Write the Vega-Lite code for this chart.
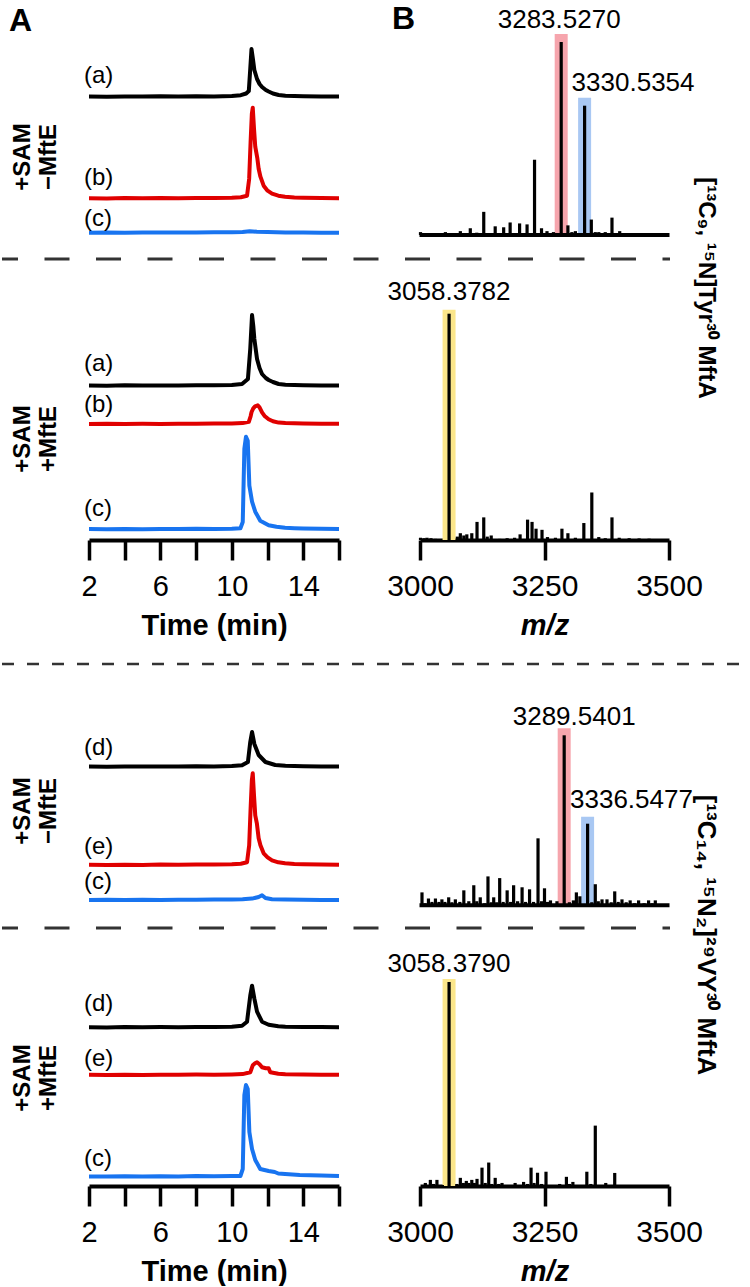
{
"$schema":"https://vega.github.io/schema/vega-lite/v6.json",
"padding":{"left":0,"top":2,"right":0,"bottom":0},
"config":{"view":{"stroke":null},"font":"Liberation Sans","text":{"font":"Liberation Sans","color":"#000000"}},
"datasets":{
"chrom":[
{"p":"L1a","t":2,"s":0.5},{"p":"L1a","t":3,"s":0.3},{"p":"L1a","t":4,"s":0.6},{"p":"L1a","t":5,"s":0.4},{"p":"L1a","t":6,"s":0.7},{"p":"L1a","t":7,"s":0.5},{"p":"L1a","t":8,"s":0.8},{"p":"L1a","t":9,"s":0.6},{"p":"L1a","t":10,"s":1},{"p":"L1a","t":10.5,"s":1.8},{"p":"L1a","t":10.8,"s":3.5},{"p":"L1a","t":10.95,"s":6},{"p":"L1a","t":11.03,"s":28},{"p":"L1a","t":11.1,"s":48},{"p":"L1a","t":11.18,"s":38},{"p":"L1a","t":11.26,"s":27},{"p":"L1a","t":11.41,"s":18},{"p":"L1a","t":11.55,"s":13},{"p":"L1a","t":11.69,"s":10},{"p":"L1a","t":11.9,"s":7},{"p":"L1a","t":12.06,"s":5.5},{"p":"L1a","t":12.3,"s":3.5},{"p":"L1a","t":12.62,"s":2},{"p":"L1a","t":13,"s":1.2},{"p":"L1a","t":13.5,"s":1},{"p":"L1a","t":14,"s":0.8},{"p":"L1a","t":15,"s":0.6},{"p":"L1a","t":16,"s":0.5},
{"p":"L1b","t":2,"s":0.5},{"p":"L1b","t":3,"s":0.3},{"p":"L1b","t":4,"s":0.6},{"p":"L1b","t":5,"s":0.4},{"p":"L1b","t":6,"s":0.6},{"p":"L1b","t":7,"s":0.4},{"p":"L1b","t":8,"s":0.7},{"p":"L1b","t":9,"s":0.6},{"p":"L1b","t":10,"s":0.9},{"p":"L1b","t":10.5,"s":1.5},{"p":"L1b","t":10.85,"s":3},{"p":"L1b","t":10.97,"s":20},{"p":"L1b","t":11.05,"s":57},{"p":"L1b","t":11.12,"s":85},{"p":"L1b","t":11.17,"s":91},{"p":"L1b","t":11.24,"s":70},{"p":"L1b","t":11.31,"s":52},{"p":"L1b","t":11.36,"s":47},{"p":"L1b","t":11.43,"s":40},{"p":"L1b","t":11.5,"s":30},{"p":"L1b","t":11.6,"s":22},{"p":"L1b","t":11.78,"s":13},{"p":"L1b","t":12,"s":8},{"p":"L1b","t":12.25,"s":5},{"p":"L1b","t":12.6,"s":3},{"p":"L1b","t":12.98,"s":2},{"p":"L1b","t":13.5,"s":1.2},{"p":"L1b","t":14,"s":0.9},{"p":"L1b","t":15,"s":0.6},{"p":"L1b","t":16,"s":0.5},
{"p":"L1c","t":2,"s":0.3},{"p":"L1c","t":3,"s":0.5},{"p":"L1c","t":4,"s":0.2},{"p":"L1c","t":5,"s":0.5},{"p":"L1c","t":6,"s":0.4},{"p":"L1c","t":7,"s":0.6},{"p":"L1c","t":8,"s":0.5},{"p":"L1c","t":9,"s":0.7},{"p":"L1c","t":10,"s":0.8},{"p":"L1c","t":10.6,"s":1},{"p":"L1c","t":11,"s":1.8},{"p":"L1c","t":11.4,"s":1.2},{"p":"L1c","t":12,"s":0.9},{"p":"L1c","t":13,"s":0.6},{"p":"L1c","t":14,"s":0.5},{"p":"L1c","t":15,"s":0.3},{"p":"L1c","t":16,"s":0.2},
{"p":"L2a","t":2,"s":0.5},{"p":"L2a","t":3,"s":0.3},{"p":"L2a","t":4,"s":0.7},{"p":"L2a","t":5,"s":0.4},{"p":"L2a","t":6,"s":0.6},{"p":"L2a","t":7,"s":0.5},{"p":"L2a","t":8,"s":0.8},{"p":"L2a","t":9,"s":0.7},{"p":"L2a","t":10,"s":1},{"p":"L2a","t":10.57,"s":2},{"p":"L2a","t":10.9,"s":7},{"p":"L2a","t":11.03,"s":37},{"p":"L2a","t":11.13,"s":71},{"p":"L2a","t":11.2,"s":60},{"p":"L2a","t":11.26,"s":47},{"p":"L2a","t":11.41,"s":27},{"p":"L2a","t":11.55,"s":18},{"p":"L2a","t":11.69,"s":12},{"p":"L2a","t":11.9,"s":8},{"p":"L2a","t":12.06,"s":6},{"p":"L2a","t":12.3,"s":4},{"p":"L2a","t":12.62,"s":2},{"p":"L2a","t":13,"s":1.3},{"p":"L2a","t":13.5,"s":1},{"p":"L2a","t":14,"s":0.8},{"p":"L2a","t":15,"s":0.6},{"p":"L2a","t":16,"s":0.5},
{"p":"L2b","t":2,"s":0.4},{"p":"L2b","t":3,"s":0.6},{"p":"L2b","t":4,"s":0.3},{"p":"L2b","t":5,"s":0.5},{"p":"L2b","t":6,"s":0.4},{"p":"L2b","t":7,"s":0.6},{"p":"L2b","t":8,"s":0.5},{"p":"L2b","t":9,"s":0.7},{"p":"L2b","t":10,"s":0.9},{"p":"L2b","t":10.6,"s":1.2},{"p":"L2b","t":10.95,"s":2.5},{"p":"L2b","t":11.05,"s":8},{"p":"L2b","t":11.1,"s":12},{"p":"L2b","t":11.2,"s":16},{"p":"L2b","t":11.3,"s":18},{"p":"L2b","t":11.45,"s":19},{"p":"L2b","t":11.55,"s":17},{"p":"L2b","t":11.69,"s":12},{"p":"L2b","t":11.85,"s":8},{"p":"L2b","t":12.06,"s":5},{"p":"L2b","t":12.3,"s":3},{"p":"L2b","t":12.62,"s":1.7},{"p":"L2b","t":13,"s":1.2},{"p":"L2b","t":14,"s":0.8},{"p":"L2b","t":15,"s":0.6},{"p":"L2b","t":16,"s":0.5},
{"p":"L2c","t":2,"s":0.6},{"p":"L2c","t":3,"s":0.4},{"p":"L2c","t":4,"s":0.7},{"p":"L2c","t":5,"s":0.5},{"p":"L2c","t":6,"s":0.8},{"p":"L2c","t":7,"s":0.6},{"p":"L2c","t":8,"s":0.9},{"p":"L2c","t":9,"s":0.8},{"p":"L2c","t":10,"s":1},{"p":"L2c","t":10.48,"s":1.5},{"p":"L2c","t":10.61,"s":7.7},{"p":"L2c","t":10.7,"s":81},{"p":"L2c","t":10.79,"s":93},{"p":"L2c","t":10.89,"s":89},{"p":"L2c","t":10.98,"s":44},{"p":"L2c","t":11.13,"s":28},{"p":"L2c","t":11.31,"s":18},{"p":"L2c","t":11.59,"s":9},{"p":"L2c","t":12.06,"s":4.5},{"p":"L2c","t":12.5,"s":3},{"p":"L2c","t":12.98,"s":2},{"p":"L2c","t":13.5,"s":1.5},{"p":"L2c","t":14,"s":1.2},{"p":"L2c","t":15,"s":0.9},{"p":"L2c","t":16,"s":0.7},
{"p":"L3d","t":2,"s":0.5},{"p":"L3d","t":3,"s":0.3},{"p":"L3d","t":4,"s":0.6},{"p":"L3d","t":5,"s":0.4},{"p":"L3d","t":6,"s":0.6},{"p":"L3d","t":7,"s":0.4},{"p":"L3d","t":8,"s":0.7},{"p":"L3d","t":9,"s":0.6},{"p":"L3d","t":10,"s":0.9},{"p":"L3d","t":10.57,"s":1.7},{"p":"L3d","t":10.9,"s":5},{"p":"L3d","t":11.03,"s":25},{"p":"L3d","t":11.13,"s":35},{"p":"L3d","t":11.26,"s":23},{"p":"L3d","t":11.5,"s":12},{"p":"L3d","t":11.88,"s":5},{"p":"L3d","t":12.43,"s":2},{"p":"L3d","t":13,"s":1.2},{"p":"L3d","t":14,"s":0.8},{"p":"L3d","t":15,"s":0.6},{"p":"L3d","t":16,"s":0.5},
{"p":"L3e","t":2,"s":0.5},{"p":"L3e","t":3,"s":0.3},{"p":"L3e","t":4,"s":0.6},{"p":"L3e","t":5,"s":0.4},{"p":"L3e","t":6,"s":0.7},{"p":"L3e","t":7,"s":0.5},{"p":"L3e","t":8,"s":0.8},{"p":"L3e","t":9,"s":0.7},{"p":"L3e","t":10,"s":1},{"p":"L3e","t":10.5,"s":1.6},{"p":"L3e","t":10.85,"s":3},{"p":"L3e","t":10.97,"s":20},{"p":"L3e","t":11.05,"s":57},{"p":"L3e","t":11.12,"s":85},{"p":"L3e","t":11.17,"s":92},{"p":"L3e","t":11.24,"s":70},{"p":"L3e","t":11.31,"s":50},{"p":"L3e","t":11.4,"s":42},{"p":"L3e","t":11.5,"s":27},{"p":"L3e","t":11.6,"s":20},{"p":"L3e","t":11.78,"s":12},{"p":"L3e","t":12,"s":8},{"p":"L3e","t":12.25,"s":5},{"p":"L3e","t":12.6,"s":3},{"p":"L3e","t":12.98,"s":2},{"p":"L3e","t":13.5,"s":1.3},{"p":"L3e","t":14,"s":1},{"p":"L3e","t":15,"s":0.7},{"p":"L3e","t":16,"s":0.5},
{"p":"L3c","t":2,"s":0.3},{"p":"L3c","t":3,"s":0.5},{"p":"L3c","t":4,"s":0.3},{"p":"L3c","t":5,"s":0.6},{"p":"L3c","t":6,"s":0.4},{"p":"L3c","t":7,"s":0.6},{"p":"L3c","t":8,"s":0.5},{"p":"L3c","t":9,"s":0.7},{"p":"L3c","t":10,"s":0.8},{"p":"L3c","t":10.6,"s":1},{"p":"L3c","t":11.13,"s":1.7},{"p":"L3c","t":11.5,"s":3.3},{"p":"L3c","t":11.69,"s":5},{"p":"L3c","t":11.88,"s":2.3},{"p":"L3c","t":12.25,"s":1},{"p":"L3c","t":13,"s":0.7},{"p":"L3c","t":14,"s":0.5},{"p":"L3c","t":15,"s":0.4},{"p":"L3c","t":16,"s":0.3},
{"p":"L4d","t":2,"s":0.5},{"p":"L4d","t":3,"s":0.3},{"p":"L4d","t":4,"s":0.6},{"p":"L4d","t":5,"s":0.4},{"p":"L4d","t":6,"s":0.6},{"p":"L4d","t":7,"s":0.5},{"p":"L4d","t":8,"s":0.7},{"p":"L4d","t":9,"s":0.6},{"p":"L4d","t":10,"s":1},{"p":"L4d","t":10.57,"s":2},{"p":"L4d","t":10.85,"s":6},{"p":"L4d","t":11.03,"s":32},{"p":"L4d","t":11.13,"s":42},{"p":"L4d","t":11.26,"s":29},{"p":"L4d","t":11.41,"s":16},{"p":"L4d","t":11.69,"s":6},{"p":"L4d","t":12.06,"s":3},{"p":"L4d","t":12.6,"s":1.5},{"p":"L4d","t":13,"s":1},{"p":"L4d","t":14,"s":0.7},{"p":"L4d","t":15,"s":0.6},{"p":"L4d","t":16,"s":0.5},
{"p":"L4e","t":2,"s":0.5},{"p":"L4e","t":3,"s":0.3},{"p":"L4e","t":4,"s":0.6},{"p":"L4e","t":5,"s":0.4},{"p":"L4e","t":6,"s":0.6},{"p":"L4e","t":7,"s":0.5},{"p":"L4e","t":8,"s":0.7},{"p":"L4e","t":9,"s":0.6},{"p":"L4e","t":10,"s":0.9},{"p":"L4e","t":10.6,"s":1.2},{"p":"L4e","t":11.03,"s":3},{"p":"L4e","t":11.17,"s":10},{"p":"L4e","t":11.3,"s":12},{"p":"L4e","t":11.41,"s":13},{"p":"L4e","t":11.55,"s":11},{"p":"L4e","t":11.69,"s":8},{"p":"L4e","t":11.9,"s":7},{"p":"L4e","t":12.06,"s":7},{"p":"L4e","t":12.15,"s":3},{"p":"L4e","t":12.6,"s":1.5},{"p":"L4e","t":13,"s":1},{"p":"L4e","t":14,"s":0.7},{"p":"L4e","t":15,"s":0.6},{"p":"L4e","t":16,"s":0.5},
{"p":"L4c","t":2,"s":0.6},{"p":"L4c","t":3,"s":0.4},{"p":"L4c","t":4,"s":0.7},{"p":"L4c","t":5,"s":0.5},{"p":"L4c","t":6,"s":0.8},{"p":"L4c","t":7,"s":0.6},{"p":"L4c","t":8,"s":0.9},{"p":"L4c","t":9,"s":0.8},{"p":"L4c","t":10,"s":1},{"p":"L4c","t":10.48,"s":1},{"p":"L4c","t":10.61,"s":8},{"p":"L4c","t":10.7,"s":82},{"p":"L4c","t":10.79,"s":92},{"p":"L4c","t":10.89,"s":88},{"p":"L4c","t":10.98,"s":45},{"p":"L4c","t":11.13,"s":28},{"p":"L4c","t":11.31,"s":17},{"p":"L4c","t":11.59,"s":8},{"p":"L4c","t":12.06,"s":6},{"p":"L4c","t":12.4,"s":5},{"p":"L4c","t":12.6,"s":3.5},{"p":"L4c","t":12.98,"s":3},{"p":"L4c","t":13.8,"s":2},{"p":"L4c","t":15,"s":1.5},{"p":"L4c","t":16,"s":1}
],
"spec":[
{"p":"S1","mz":3001,"rel":1.5},{"p":"S1","mz":3012,"rel":1},{"p":"S1","mz":3020,"rel":0.8},{"p":"S1","mz":3030,"rel":1},{"p":"S1","mz":3040,"rel":0.8},{"p":"S1","mz":3051,"rel":1.5},{"p":"S1","mz":3062,"rel":0.8},{"p":"S1","mz":3070,"rel":1},{"p":"S1","mz":3081,"rel":2},{"p":"S1","mz":3090,"rel":1},{"p":"S1","mz":3101,"rel":3.5},{"p":"S1","mz":3114,"rel":1.2},{"p":"S1","mz":3128,"rel":12},{"p":"S1","mz":3141,"rel":0.8},{"p":"S1","mz":3151,"rel":4.5},{"p":"S1","mz":3160,"rel":1},{"p":"S1","mz":3168,"rel":4},{"p":"S1","mz":3175,"rel":1},{"p":"S1","mz":3181,"rel":6.5},{"p":"S1","mz":3192,"rel":1},{"p":"S1","mz":3200,"rel":6},{"p":"S1","mz":3207,"rel":1},{"p":"S1","mz":3215,"rel":5.5},{"p":"S1","mz":3222,"rel":0.8},{"p":"S1","mz":3230,"rel":39},{"p":"S1","mz":3237,"rel":1},{"p":"S1","mz":3244,"rel":3.5},{"p":"S1","mz":3255,"rel":2},{"p":"S1","mz":3268,"rel":1.5},{"p":"S1","mz":3283.527,"rel":100,"grp":"M"},{"p":"S1","mz":3297,"rel":5},{"p":"S1","mz":3305,"rel":1.5},{"p":"S1","mz":3312,"rel":2},{"p":"S1","mz":3320,"rel":0.8},{"p":"S1","mz":3330.5354,"rel":67,"grp":"M47"},{"p":"S1","mz":3344,"rel":8},{"p":"S1","mz":3352,"rel":1.5},{"p":"S1","mz":3359,"rel":1.5},{"p":"S1","mz":3372,"rel":1.5},{"p":"S1","mz":3385.5,"rel":9},{"p":"S1","mz":3393,"rel":1},{"p":"S1","mz":3401,"rel":2},{"p":"S1","mz":3412,"rel":0.5},
{"p":"S2","mz":3001,"rel":1},{"p":"S2","mz":3008,"rel":0.8},{"p":"S2","mz":3014,"rel":1},{"p":"S2","mz":3022,"rel":0.8},{"p":"S2","mz":3031,"rel":0.5},{"p":"S2","mz":3058.3782,"rel":100,"grp":"P"},{"p":"S2","mz":3075,"rel":1.5},{"p":"S2","mz":3081,"rel":3},{"p":"S2","mz":3088,"rel":2},{"p":"S2","mz":3094,"rel":2.5},{"p":"S2","mz":3104,"rel":3},{"p":"S2","mz":3114.5,"rel":8},{"p":"S2","mz":3128,"rel":10},{"p":"S2","mz":3135,"rel":1.5},{"p":"S2","mz":3143,"rel":2},{"p":"S2","mz":3160,"rel":0.5},{"p":"S2","mz":3175,"rel":0.8},{"p":"S2","mz":3190,"rel":1},{"p":"S2","mz":3201,"rel":2.5},{"p":"S2","mz":3216,"rel":9},{"p":"S2","mz":3225,"rel":8},{"p":"S2","mz":3233,"rel":5},{"p":"S2","mz":3245,"rel":4.5},{"p":"S2","mz":3256,"rel":1.3},{"p":"S2","mz":3272,"rel":1},{"p":"S2","mz":3285,"rel":5},{"p":"S2","mz":3297,"rel":3},{"p":"S2","mz":3312,"rel":1},{"p":"S2","mz":3329,"rel":7.5},{"p":"S2","mz":3345,"rel":21},{"p":"S2","mz":3359,"rel":1.3},{"p":"S2","mz":3372,"rel":0.8},{"p":"S2","mz":3385.5,"rel":10},{"p":"S2","mz":3400,"rel":1},{"p":"S2","mz":3420,"rel":0.8},{"p":"S2","mz":3440,"rel":0.7},{"p":"S2","mz":3460,"rel":0.6},
{"p":"S3","mz":3004,"rel":7.6},{"p":"S3","mz":3010,"rel":1.2},{"p":"S3","mz":3017,"rel":4},{"p":"S3","mz":3024,"rel":2},{"p":"S3","mz":3031,"rel":4},{"p":"S3","mz":3038,"rel":2},{"p":"S3","mz":3044,"rel":3.5},{"p":"S3","mz":3050,"rel":2},{"p":"S3","mz":3057.6,"rel":4.7},{"p":"S3","mz":3064,"rel":1.8},{"p":"S3","mz":3071,"rel":3.5},{"p":"S3","mz":3080,"rel":2},{"p":"S3","mz":3088,"rel":8.8},{"p":"S3","mz":3098,"rel":2.4},{"p":"S3","mz":3108,"rel":11.8},{"p":"S3","mz":3114,"rel":2.4},{"p":"S3","mz":3121,"rel":4.7},{"p":"S3","mz":3130,"rel":1.2},{"p":"S3","mz":3136.5,"rel":17},{"p":"S3","mz":3143,"rel":1.8},{"p":"S3","mz":3148,"rel":4.7},{"p":"S3","mz":3154,"rel":1.8},{"p":"S3","mz":3160,"rel":16},{"p":"S3","mz":3167,"rel":2},{"p":"S3","mz":3175,"rel":8.8},{"p":"S3","mz":3182,"rel":2},{"p":"S3","mz":3188,"rel":11.8},{"p":"S3","mz":3196,"rel":2.4},{"p":"S3","mz":3205,"rel":10.6},{"p":"S3","mz":3212,"rel":2},{"p":"S3","mz":3220,"rel":9.4},{"p":"S3","mz":3228,"rel":2},{"p":"S3","mz":3237,"rel":39.4},{"p":"S3","mz":3244,"rel":2.4},{"p":"S3","mz":3250,"rel":10},{"p":"S3","mz":3256,"rel":2},{"p":"S3","mz":3262,"rel":2.9},{"p":"S3","mz":3275,"rel":2.4},{"p":"S3","mz":3289.5401,"rel":100,"grp":"M"},{"p":"S3","mz":3300,"rel":1.8},{"p":"S3","mz":3308,"rel":2.9},{"p":"S3","mz":3314,"rel":7.6},{"p":"S3","mz":3321,"rel":5.3},{"p":"S3","mz":3336.5477,"rel":48,"grp":"M47"},{"p":"S3","mz":3345,"rel":1.8},{"p":"S3","mz":3352,"rel":12.4},{"p":"S3","mz":3358,"rel":2.4},{"p":"S3","mz":3365.5,"rel":3.5},{"p":"S3","mz":3375.5,"rel":3.5},{"p":"S3","mz":3384,"rel":1.8},{"p":"S3","mz":3391,"rel":8.2},{"p":"S3","mz":3398,"rel":2},{"p":"S3","mz":3405.6,"rel":3.5},{"p":"S3","mz":3414,"rel":1.8},{"p":"S3","mz":3422,"rel":2.9},{"p":"S3","mz":3431,"rel":1.2},{"p":"S3","mz":3439,"rel":2.9},{"p":"S3","mz":3450,"rel":1.2},{"p":"S3","mz":3459,"rel":2.9},{"p":"S3","mz":3466,"rel":1.2},{"p":"S3","mz":3472.5,"rel":2.9},
{"p":"S4","mz":3010.7,"rel":1.5},{"p":"S4","mz":3020.8,"rel":3},{"p":"S4","mz":3027,"rel":1},{"p":"S4","mz":3034,"rel":3},{"p":"S4","mz":3045,"rel":0.5},{"p":"S4","mz":3058.379,"rel":100,"grp":"P"},{"p":"S4","mz":3074,"rel":1},{"p":"S4","mz":3081,"rel":4},{"p":"S4","mz":3087,"rel":1.5},{"p":"S4","mz":3093,"rel":2.5},{"p":"S4","mz":3098,"rel":1.5},{"p":"S4","mz":3104,"rel":3},{"p":"S4","mz":3109,"rel":1.5},{"p":"S4","mz":3114.5,"rel":3.5},{"p":"S4","mz":3124.5,"rel":9},{"p":"S4","mz":3131,"rel":1.5},{"p":"S4","mz":3138,"rel":11.5},{"p":"S4","mz":3144,"rel":1},{"p":"S4","mz":3151,"rel":4},{"p":"S4","mz":3158,"rel":1},{"p":"S4","mz":3164.7,"rel":1.5},{"p":"S4","mz":3178,"rel":0.5},{"p":"S4","mz":3191,"rel":1.5},{"p":"S4","mz":3200,"rel":0.5},{"p":"S4","mz":3208,"rel":2},{"p":"S4","mz":3216,"rel":1},{"p":"S4","mz":3223,"rel":9},{"p":"S4","mz":3229,"rel":1.5},{"p":"S4","mz":3236,"rel":6.5},{"p":"S4","mz":3244,"rel":1},{"p":"S4","mz":3253,"rel":7},{"p":"S4","mz":3265,"rel":0.5},{"p":"S4","mz":3280.5,"rel":1},{"p":"S4","mz":3288,"rel":0.5},{"p":"S4","mz":3294,"rel":4.5},{"p":"S4","mz":3300,"rel":1},{"p":"S4","mz":3307,"rel":2},{"p":"S4","mz":3320,"rel":0.5},{"p":"S4","mz":3335,"rel":7},{"p":"S4","mz":3343,"rel":1},{"p":"S4","mz":3352,"rel":29.6},{"p":"S4","mz":3362,"rel":0.5},{"p":"S4","mz":3373,"rel":1.5},{"p":"S4","mz":3382,"rel":0.5},{"p":"S4","mz":3391,"rel":6.4},{"p":"S4","mz":3400,"rel":0.5}
]
},
"bounds":"flush",
"spacing":162,
"vconcat":[
{"width":580,"height":508,
"resolve":{"scale":{"x":"independent","y":"independent"}},
"layer":[
{"layer":[
{"data":{"name":"chrom"},"transform":[{"filter":"datum.p=='L1a'"}],"mark":{"type":"line","color":"#000000","strokeWidth":4,"strokeJoin":"round"},"encoding":{"x":{"field":"t","type":"quantitative","scale":{"domain":[2,16],"range":[0,250],"nice":false},"axis":null},"y":{"field":"s","type":"quantitative","scale":{"domain":[0,100],"range":[65,-35],"nice":false},"axis":null}}},
{"data":{"values":[{}]},"mark":{"type":"text","fontSize":24,"align":"left","baseline":"middle","dx":-5},"encoding":{"x":{"datum":2,"type":"quantitative","axis":null},"y":{"datum":21,"type":"quantitative","axis":null},"text":{"value":"(a)"}}},
{"data":{"values":[{}]},"mark":{"type":"text","fontSize":32,"fontWeight":"bold","align":"left","baseline":"middle"},"encoding":{"x":{"datum":-2.48,"type":"quantitative","axis":null},"y":{"datum":76.5,"type":"quantitative","axis":null},"text":{"value":"A"}}}
]},
{"layer":[
{"data":{"name":"chrom"},"transform":[{"filter":"datum.p=='L1b'"}],"mark":{"type":"line","color":"#e00000","strokeWidth":4,"strokeJoin":"round"},"encoding":{"x":{"field":"t","type":"quantitative","scale":{"domain":[2,16],"range":[0,250],"nice":false},"axis":null},"y":{"field":"s","type":"quantitative","scale":{"domain":[0,100],"range":[166.7,66.7],"nice":false},"axis":null}}},
{"data":{"values":[{}]},"mark":{"type":"text","fontSize":24,"align":"left","baseline":"middle","dx":-5},"encoding":{"x":{"datum":2,"type":"quantitative","axis":null},"y":{"datum":21,"type":"quantitative","axis":null},"text":{"value":"(b)"}}},
{"data":{"values":[{}]},"mark":{"type":"text","fontSize":24,"fontWeight":"bold","align":"center","baseline":"middle","angle":270,"lineHeight":26},"encoding":{"x":{"datum":-1.696,"type":"quantitative","axis":null},"y":{"datum":41.7,"type":"quantitative","axis":null},"text":{"value":["+SAM","−MftE"]}}}
]},
{"layer":[
{"data":{"name":"chrom"},"transform":[{"filter":"datum.p=='L1c'"}],"mark":{"type":"line","color":"#1874f0","strokeWidth":4,"strokeJoin":"round"},"encoding":{"x":{"field":"t","type":"quantitative","scale":{"domain":[2,16],"range":[0,250],"nice":false},"axis":null},"y":{"field":"s","type":"quantitative","scale":{"domain":[0,100],"range":[201,101],"nice":false},"axis":null}}},
{"data":{"values":[{}]},"mark":{"type":"text","fontSize":24,"align":"left","baseline":"middle","dx":-5},"encoding":{"x":{"datum":2,"type":"quantitative","axis":null},"y":{"datum":14.5,"type":"quantitative","axis":null},"text":{"value":"(c)"}}}
]},
{"layer":[
{"data":{"name":"chrom"},"transform":[{"filter":"datum.p=='L2a'"}],"mark":{"type":"line","color":"#000000","strokeWidth":4,"strokeJoin":"round"},"encoding":{"x":{"field":"t","type":"quantitative","scale":{"domain":[2,16],"range":[0,250],"nice":false},"axis":null},"y":{"field":"s","type":"quantitative","scale":{"domain":[0,100],"range":[354,254],"nice":false},"axis":null}}},
{"data":{"values":[{}]},"mark":{"type":"text","fontSize":24,"align":"left","baseline":"middle","dx":-5},"encoding":{"x":{"datum":2,"type":"quantitative","axis":null},"y":{"datum":22.5,"type":"quantitative","axis":null},"text":{"value":"(a)"}}}
]},
{"layer":[
{"data":{"name":"chrom"},"transform":[{"filter":"datum.p=='L2b'"}],"mark":{"type":"line","color":"#e00000","strokeWidth":4,"strokeJoin":"round"},"encoding":{"x":{"field":"t","type":"quantitative","scale":{"domain":[2,16],"range":[0,250],"nice":false},"axis":null},"y":{"field":"s","type":"quantitative","scale":{"domain":[0,100],"range":[392.3,292.3],"nice":false},"axis":null}}},
{"data":{"values":[{}]},"mark":{"type":"text","fontSize":24,"align":"left","baseline":"middle","dx":-5},"encoding":{"x":{"datum":2,"type":"quantitative","axis":null},"y":{"datum":19.3,"type":"quantitative","axis":null},"text":{"value":"(b)"}}},
{"data":{"values":[{}]},"mark":{"type":"text","fontSize":24,"fontWeight":"bold","align":"center","baseline":"middle","angle":270,"lineHeight":26},"encoding":{"x":{"datum":-1.696,"type":"quantitative","axis":null},"y":{"datum":-14.7,"type":"quantitative","axis":null},"text":{"value":["+SAM","+MftE"]}}}
]},
{"layer":[
{"data":{"name":"chrom"},"transform":[{"filter":"datum.p=='L2c'"}],"mark":{"type":"line","color":"#1874f0","strokeWidth":4,"strokeJoin":"round"},"encoding":{"x":{"field":"t","type":"quantitative","scale":{"domain":[2,16],"range":[0,250],"nice":false},"axis":{"orient":"bottom","values":[2,4,6,8,10,12,14,16],"labelExpr":"datum.value % 4 == 2 ? datum.label : ''","title":"Time (min)","domainColor":"#000000","domainWidth":4,"tickColor":"#000000","tickWidth":3.5,"tickSize":20,"labelFont":"Liberation Sans","labelFontSize":29,"labelColor":"#000000","labelPadding":12,"labelFlush":false,"labelOverlap":false,"titleFont":"Liberation Sans","titleFontSize":29,"titleFontWeight":"bold","titleColor":"#000000","titlePadding":10,"grid":false}},"y":{"field":"s","type":"quantitative","scale":{"domain":[0,100],"range":[497.7,397.7],"nice":false},"axis":null}}},
{"data":{"values":[{}]},"mark":{"type":"text","fontSize":24,"align":"left","baseline":"middle","dx":-5},"encoding":{"x":{"datum":2,"type":"quantitative"},"y":{"datum":21.2,"type":"quantitative","axis":null},"text":{"value":"(c)"}}}
]},
{"layer":[
{"data":{"name":"spec"},"transform":[{"filter":"datum.p=='S1' && datum.grp != null"}],"mark":{"type":"rule","strokeWidth":13,"yOffset":-8},"encoding":{"x":{"field":"mz","type":"quantitative","scale":{"domain":[3000,3500],"range":[331,580],"nice":false},"axis":null},"y":{"field":"rel","type":"quantitative","scale":{"domain":[0,100],"range":[203,10],"nice":false},"axis":null},"y2":{"datum":0},"color":{"field":"grp","type":"nominal","scale":{"domain":["M","M47","P"],"range":["#f6a5ad","#a9c8f3","#fbe68b"]},"legend":null}}},
{"data":{"name":"spec"},"transform":[{"filter":"datum.p=='S1'"}],"mark":{"type":"rule","strokeWidth":3.2,"color":"#000000"},"encoding":{"x":{"field":"mz","type":"quantitative","axis":null},"y":{"field":"rel","type":"quantitative","axis":null},"y2":{"datum":0}}},
{"data":{"values":[{}]},"mark":{"type":"rule","strokeWidth":4,"color":"#000000"},"encoding":{"x":{"datum":2999,"type":"quantitative","axis":null},"x2":{"datum":3501},"y":{"datum":0,"type":"quantitative","axis":null}}},
{"data":{"values":[{}]},"mark":{"type":"rule","strokeWidth":3,"color":"#333333","strokeDash":[25,26.5],"strokeDashOffset":9},"encoding":{"x":{"datum":2160.64,"type":"quantitative","axis":null},"x2":{"datum":3502},"y":{"datum":-12.44,"type":"quantitative","axis":null}}},
{"data":{"name":"spec"},"transform":[{"filter":"datum.p=='S1' && datum.grp=='M'"}],"mark":{"type":"text","fontSize":26,"align":"center","baseline":"middle","dx":-2,"dy":-22},"encoding":{"x":{"field":"mz","type":"quantitative","axis":null},"y":{"field":"rel","type":"quantitative","axis":null},"text":{"field":"mz","type":"quantitative","format":".4f"}}},
{"data":{"name":"spec"},"transform":[{"filter":"datum.p=='S1' && datum.grp=='M47'"}],"mark":{"type":"text","fontSize":26,"align":"left","baseline":"middle","dx":-13,"dy":-23},"encoding":{"x":{"field":"mz","type":"quantitative","axis":null},"y":{"field":"rel","type":"quantitative","axis":null},"text":{"field":"mz","type":"quantitative","format":".4f"}}},
{"data":{"values":[{}]},"mark":{"type":"text","fontSize":32,"fontWeight":"bold","align":"left","baseline":"middle"},"encoding":{"x":{"datum":2943.8,"type":"quantitative","axis":null},"y":{"datum":112,"type":"quantitative","axis":null},"text":{"value":"B"}}},
{"data":{"values":[{}]},"mark":{"type":"text","fontSize":24,"fontWeight":"bold","align":"center","baseline":"middle","angle":90},"encoding":{"x":{"datum":3573.5,"type":"quantitative","axis":null},"y":{"datum":-27.5,"type":"quantitative","axis":null},"text":{"value":"[¹³C₉, ¹⁵N]Tyr³⁰ MftA"}}}
]},
{"layer":[
{"data":{"name":"spec"},"transform":[{"filter":"datum.p=='S2' && datum.grp != null"}],"mark":{"type":"rule","strokeWidth":13,"yOffset":-4},"encoding":{"x":{"field":"mz","type":"quantitative","scale":{"domain":[3000,3500],"range":[331,580],"nice":false}},"y":{"field":"rel","type":"quantitative","scale":{"domain":[0,100],"range":[508,281.7],"nice":false},"axis":null},"y2":{"datum":0},"color":{"field":"grp","type":"nominal","scale":{"domain":["M","M47","P"],"range":["#f6a5ad","#a9c8f3","#fbe68b"]},"legend":null}}},
{"data":{"name":"spec"},"transform":[{"filter":"datum.p=='S2'"}],"mark":{"type":"rule","strokeWidth":3.2,"color":"#000000"},"encoding":{"x":{"field":"mz","type":"quantitative","axis":{"orient":"bottom","values":[3000,3250,3500],"format":"d","title":"m/z","domainColor":"#000000","domainWidth":4,"tickColor":"#000000","tickWidth":3.5,"tickSize":20,"labelFont":"Liberation Sans","labelFontSize":30,"labelColor":"#000000","labelPadding":11,"labelFlush":false,"labelOverlap":false,"titleFont":"Liberation Sans","titleFontSize":29,"titleFontWeight":"bold","titleFontStyle":"italic","titleColor":"#000000","titlePadding":10,"grid":false}},"y":{"field":"rel","type":"quantitative","axis":null},"y2":{"datum":0}}},
{"data":{"name":"spec"},"transform":[{"filter":"datum.p=='S2' && datum.grp=='P'"}],"mark":{"type":"text","fontSize":26,"align":"center","baseline":"middle","dy":-22},"encoding":{"x":{"field":"mz","type":"quantitative"},"y":{"field":"rel","type":"quantitative","axis":null},"text":{"field":"mz","type":"quantitative","format":".4f"}}}
]}
]},
{"width":580,"height":484,
"resolve":{"scale":{"x":"independent","y":"independent"}},
"layer":[
{"layer":[
{"data":{"name":"chrom"},"transform":[{"filter":"datum.p=='L3d'"}],"mark":{"type":"line","color":"#000000","strokeWidth":4,"strokeJoin":"round"},"encoding":{"x":{"field":"t","type":"quantitative","scale":{"domain":[2,16],"range":[0,250],"nice":false},"axis":null},"y":{"field":"s","type":"quantitative","scale":{"domain":[0,100],"range":[65,-35],"nice":false},"axis":null}}},
{"data":{"values":[{}]},"mark":{"type":"text","fontSize":24,"align":"left","baseline":"middle","dx":-5},"encoding":{"x":{"datum":2,"type":"quantitative","axis":null},"y":{"datum":19.3,"type":"quantitative","axis":null},"text":{"value":"(d)"}}}
]},
{"layer":[
{"data":{"name":"chrom"},"transform":[{"filter":"datum.p=='L3e'"}],"mark":{"type":"line","color":"#e00000","strokeWidth":4,"strokeJoin":"round"},"encoding":{"x":{"field":"t","type":"quantitative","scale":{"domain":[2,16],"range":[0,250],"nice":false},"axis":null},"y":{"field":"s","type":"quantitative","scale":{"domain":[0,100],"range":[163.3,63.3],"nice":false},"axis":null}}},
{"data":{"values":[{}]},"mark":{"type":"text","fontSize":24,"align":"left","baseline":"middle","dx":-5},"encoding":{"x":{"datum":2,"type":"quantitative","axis":null},"y":{"datum":18.5,"type":"quantitative","axis":null},"text":{"value":"(e)"}}},
{"data":{"values":[{}]},"mark":{"type":"text","fontSize":24,"fontWeight":"bold","align":"center","baseline":"middle","angle":270,"lineHeight":26},"encoding":{"x":{"datum":-1.696,"type":"quantitative","axis":null},"y":{"datum":54.3,"type":"quantitative","axis":null},"text":{"value":["+SAM","−MftE"]}}}
]},
{"layer":[
{"data":{"name":"chrom"},"transform":[{"filter":"datum.p=='L3c'"}],"mark":{"type":"line","color":"#1874f0","strokeWidth":4,"strokeJoin":"round"},"encoding":{"x":{"field":"t","type":"quantitative","scale":{"domain":[2,16],"range":[0,250],"nice":false},"axis":null},"y":{"field":"s","type":"quantitative","scale":{"domain":[0,100],"range":[198.3,98.3],"nice":false},"axis":null}}},
{"data":{"values":[{}]},"mark":{"type":"text","fontSize":24,"align":"left","baseline":"middle","dx":-5},"encoding":{"x":{"datum":2,"type":"quantitative","axis":null},"y":{"datum":18.5,"type":"quantitative","axis":null},"text":{"value":"(c)"}}}
]},
{"layer":[
{"data":{"name":"chrom"},"transform":[{"filter":"datum.p=='L4d'"}],"mark":{"type":"line","color":"#000000","strokeWidth":4,"strokeJoin":"round"},"encoding":{"x":{"field":"t","type":"quantitative","scale":{"domain":[2,16],"range":[0,250],"nice":false},"axis":null},"y":{"field":"s","type":"quantitative","scale":{"domain":[0,100],"range":[325.7,225.7],"nice":false},"axis":null}}},
{"data":{"values":[{}]},"mark":{"type":"text","fontSize":24,"align":"left","baseline":"middle","dx":-5},"encoding":{"x":{"datum":2,"type":"quantitative","axis":null},"y":{"datum":23.4,"type":"quantitative","axis":null},"text":{"value":"(d)"}}}
]},
{"layer":[
{"data":{"name":"chrom"},"transform":[{"filter":"datum.p=='L4e'"}],"mark":{"type":"line","color":"#e00000","strokeWidth":4,"strokeJoin":"round"},"encoding":{"x":{"field":"t","type":"quantitative","scale":{"domain":[2,16],"range":[0,250],"nice":false},"axis":null},"y":{"field":"s","type":"quantitative","scale":{"domain":[0,100],"range":[373.3,273.3],"nice":false},"axis":null}}},
{"data":{"values":[{}]},"mark":{"type":"text","fontSize":24,"align":"left","baseline":"middle","dx":-5},"encoding":{"x":{"datum":2,"type":"quantitative","axis":null},"y":{"datum":16.8,"type":"quantitative","axis":null},"text":{"value":"(e)"}}},
{"data":{"values":[{}]},"mark":{"type":"text","fontSize":24,"fontWeight":"bold","align":"center","baseline":"middle","angle":270,"lineHeight":26},"encoding":{"x":{"datum":-1.696,"type":"quantitative","axis":null},"y":{"datum":-2.7,"type":"quantitative","axis":null},"text":{"value":["+SAM","+MftE"]}}}
]},
{"layer":[
{"data":{"name":"chrom"},"transform":[{"filter":"datum.p=='L4c'"}],"mark":{"type":"line","color":"#1874f0","strokeWidth":4,"strokeJoin":"round"},"encoding":{"x":{"field":"t","type":"quantitative","scale":{"domain":[2,16],"range":[0,250],"nice":false},"axis":{"orient":"bottom","values":[2,4,6,8,10,12,14,16],"labelExpr":"datum.value % 4 == 2 ? datum.label : ''","title":"Time (min)","domainColor":"#000000","domainWidth":4,"tickColor":"#000000","tickWidth":3.5,"tickSize":20,"labelFont":"Liberation Sans","labelFontSize":29,"labelColor":"#000000","labelPadding":12,"labelFlush":false,"labelOverlap":false,"titleFont":"Liberation Sans","titleFontSize":29,"titleFontWeight":"bold","titleColor":"#000000","titlePadding":10,"grid":false}},"y":{"field":"s","type":"quantitative","scale":{"domain":[0,100],"range":[475,375],"nice":false},"axis":null}}},
{"data":{"values":[{}]},"mark":{"type":"text","fontSize":24,"align":"left","baseline":"middle","dx":-5},"encoding":{"x":{"datum":2,"type":"quantitative"},"y":{"datum":18.5,"type":"quantitative","axis":null},"text":{"value":"(c)"}}}
]},
{"layer":[
{"data":{"name":"spec"},"transform":[{"filter":"datum.p=='S3' && datum.grp != null"}],"mark":{"type":"rule","strokeWidth":13,"yOffset":-7},"encoding":{"x":{"field":"mz","type":"quantitative","scale":{"domain":[3000,3500],"range":[331,580],"nice":false},"axis":null},"y":{"field":"rel","type":"quantitative","scale":{"domain":[0,100],"range":[203.3,33.3],"nice":false},"axis":null},"y2":{"datum":0},"color":{"field":"grp","type":"nominal","scale":{"domain":["M","M47","P"],"range":["#f6a5ad","#a9c8f3","#fbe68b"]},"legend":null}}},
{"data":{"name":"spec"},"transform":[{"filter":"datum.p=='S3'"}],"mark":{"type":"rule","strokeWidth":3.2,"color":"#000000"},"encoding":{"x":{"field":"mz","type":"quantitative","axis":null},"y":{"field":"rel","type":"quantitative","axis":null},"y2":{"datum":0}}},
{"data":{"values":[{}]},"mark":{"type":"rule","strokeWidth":4,"color":"#000000"},"encoding":{"x":{"datum":2999,"type":"quantitative","axis":null},"x2":{"datum":3501},"y":{"datum":0,"type":"quantitative","axis":null}}},
{"data":{"values":[{}]},"mark":{"type":"rule","strokeWidth":3,"color":"#333333","strokeDash":[25,26.5],"strokeDashOffset":9},"encoding":{"x":{"datum":2160.64,"type":"quantitative","axis":null},"x2":{"datum":3502},"y":{"datum":-13.35,"type":"quantitative","axis":null}}},
{"data":{"values":[{}]},"mark":{"type":"rule","strokeWidth":2.5,"color":"#333333","strokeDash":[12,13]},"encoding":{"x":{"datum":2160.64,"type":"quantitative","axis":null},"x2":{"datum":3666.67},"y":{"datum":141.9,"type":"quantitative","axis":null}}},
{"data":{"name":"spec"},"transform":[{"filter":"datum.p=='S3' && datum.grp=='M'"}],"mark":{"type":"text","fontSize":26,"align":"center","baseline":"middle","dx":10,"dy":-18},"encoding":{"x":{"field":"mz","type":"quantitative","axis":null},"y":{"field":"rel","type":"quantitative","axis":null},"text":{"field":"mz","type":"quantitative","format":".4f"}}},
{"data":{"name":"spec"},"transform":[{"filter":"datum.p=='S3' && datum.grp=='M47'"}],"mark":{"type":"text","fontSize":26,"align":"left","baseline":"middle","dx":-17.6,"dy":-24},"encoding":{"x":{"field":"mz","type":"quantitative","axis":null},"y":{"field":"rel","type":"quantitative","axis":null},"text":{"field":"mz","type":"quantitative","format":".4f"}}},
{"data":{"values":[{}]},"mark":{"type":"text","fontSize":26,"fontWeight":"bold","align":"center","baseline":"middle","angle":90},"encoding":{"x":{"datum":3573.5,"type":"quantitative","axis":null},"y":{"datum":-17.5,"type":"quantitative","axis":null},"text":{"value":"[¹³C₁₄, ¹⁵N₂]²⁹VY³⁰ MftA"}}}
]},
{"layer":[
{"data":{"name":"spec"},"transform":[{"filter":"datum.p=='S4' && datum.grp != null"}],"mark":{"type":"rule","strokeWidth":13,"yOffset":-3},"encoding":{"x":{"field":"mz","type":"quantitative","scale":{"domain":[3000,3500],"range":[331,580],"nice":false}},"y":{"field":"rel","type":"quantitative","scale":{"domain":[0,100],"range":[484,280],"nice":false},"axis":null},"y2":{"datum":0},"color":{"field":"grp","type":"nominal","scale":{"domain":["M","M47","P"],"range":["#f6a5ad","#a9c8f3","#fbe68b"]},"legend":null}}},
{"data":{"name":"spec"},"transform":[{"filter":"datum.p=='S4'"}],"mark":{"type":"rule","strokeWidth":3.2,"color":"#000000"},"encoding":{"x":{"field":"mz","type":"quantitative","axis":{"orient":"bottom","values":[3000,3250,3500],"format":"d","title":"m/z","domainColor":"#000000","domainWidth":4,"tickColor":"#000000","tickWidth":3.5,"tickSize":20,"labelFont":"Liberation Sans","labelFontSize":30,"labelColor":"#000000","labelPadding":11,"labelFlush":false,"labelOverlap":false,"titleFont":"Liberation Sans","titleFontSize":29,"titleFontWeight":"bold","titleFontStyle":"italic","titleColor":"#000000","titlePadding":10,"grid":false}},"y":{"field":"rel","type":"quantitative","axis":null},"y2":{"datum":0}}},
{"data":{"name":"spec"},"transform":[{"filter":"datum.p=='S4' && datum.grp=='P'"}],"mark":{"type":"text","fontSize":26,"align":"center","baseline":"middle","dy":-18.5},"encoding":{"x":{"field":"mz","type":"quantitative"},"y":{"field":"rel","type":"quantitative","axis":null},"text":{"field":"mz","type":"quantitative","format":".4f"}}}
]}
]}
]
}
